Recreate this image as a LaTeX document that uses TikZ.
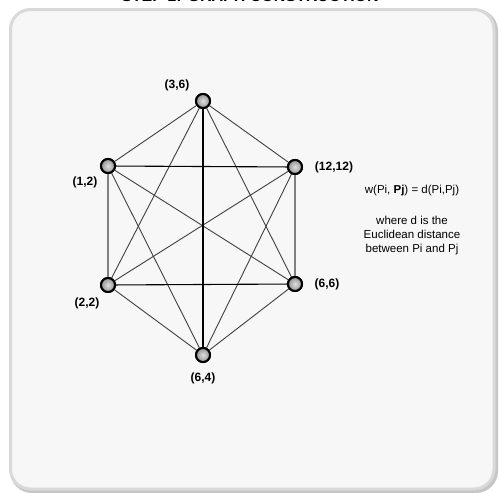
\documentclass[tikz,border=0pt]{standalone}
\usepackage{fontspec}
\setmainfont{Liberation Sans}
\usetikzlibrary{positioning}

\tikzset{
  vertex/.style={circle,draw=black,line width=2pt,minimum size=14pt,inner sep=0pt,
                 shade,inner color=gray!25,outer color=gray!85},
  lbl/.style={font=\fontsize{12}{14}\selectfont\bfseries,inner sep=0pt},
  edge/.style={draw=black!75,line width=0.9pt},
  spoke/.style={draw=black,line width=1.6pt},
  rung/.style={draw=black,line width=1.1pt},
  side/.style={draw=black!50,line width=1.3pt}
}

\begin{document}
\begin{tikzpicture}[x=1pt,y=-1pt]
\useasboundingbox (0,0) rectangle (499,493);

%draws background and panel
\fill[white] (0,0) rectangle (499,493);
\draw[gray!45,line width=4pt,rounded corners=20pt] (12,11) rectangle (496,491);
\draw[fill=black!3,draw=gray!30,line width=3pt,rounded corners=20pt] (10.5,9.5) rectangle (494,489);

%title, cut off by the top edge
\node[font=\fontsize{16}{18}\selectfont\bfseries,anchor=base,inner sep=0pt] (title) at (250,1.5)
  {STEP 1: GRAPH CONSTRUCTION};

%vertices
\node[vertex] (p36) at (203,101) {};
\node[vertex] (p12) at (108,166) {};
\node[vertex] (p1212) at (295,167) {};
\node[vertex] (p22) at (108,285) {};
\node[vertex] (p66) at (295,284) {};
\node[vertex] (p64) at (203,355) {};

%edges of the complete graph
\foreach \a/\b in {p36/p12,p36/p1212,p36/p22,p36/p66,p12/p66,p12/p64,
                   p1212/p22,p1212/p64,p22/p64,p66/p64}
    \path[edge] (\a) -- (\b);
\path[spoke] (p36) -- (p64);
\path[rung] (p12) -- (p1212) (p22) -- (p66);
\path[side] (p12) -- (p22) (p1212) -- (p66);

%redraw vertices over the edges
\foreach \p in {p36,p12,p1212,p22,p66,p64}
    \node[vertex] at (\p) {};

%label vertices
\node[lbl] (l36) at (177,85) {(3,6)};
\node[lbl] (l12) at (85,182) {(1,2)};
\node[lbl] (l1212) at (334,167) {(12,12)};
\node[lbl] (l22) at (87,303) {(2,2)};
\node[lbl] (l66) at (327,284) {(6,6)};
\node[lbl] (l64) at (203,378) {(6,4)};

%weight note
\node[font=\fontsize{11.5}{14}\selectfont,align=center,inner sep=0pt,anchor=north] (note) at (412,185)
  {w(Pi, \textbf{Pj}) = d(Pi,Pj)\\[17pt] where d is the\\ Euclidean distance\\ between Pi and Pj};
\end{tikzpicture}
\end{document}
